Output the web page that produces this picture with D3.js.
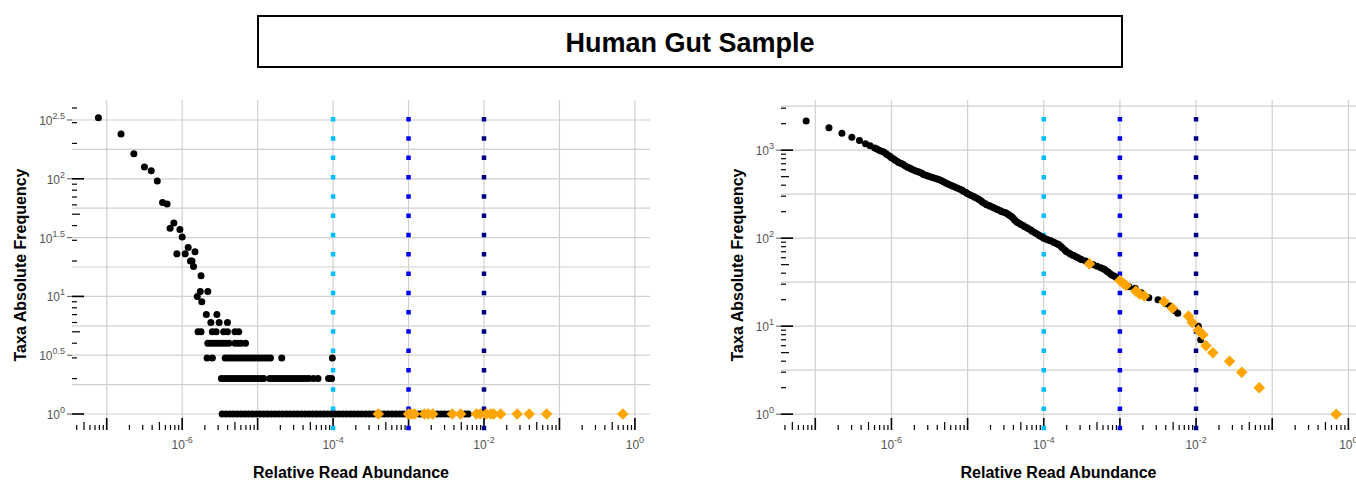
<!DOCTYPE html>
<html><head><meta charset="utf-8">
<script src="https://cdn.jsdelivr.net/npm/d3@7"></script>
<style>body{margin:0;background:#fff;font-family:"Liberation Sans",Arial,sans-serif}</style>
</head><body>
<svg id="chart" width="1356" height="480"></svg>
<script>
// thresholds for the dotted vertical lines (relative abundance)
var thresholds = [1e-4, 1e-3, 1e-2];
var thresholdColors = ["#00BFFF", "#0000FF", "#000080"];

// left panel: black points, [log10 abundance, count]
var leftTop = [[-7.11,330],[-6.81,240],[-6.64,163],[-6.50,126],[-6.41,117],[-6.33,96],[-6.26,63],[-6.20,61],
  [-6.16,38],[-6.11,42],[-6.03,37],[-6.0,32],[-6.07,23],[-5.96,23],[-5.92,26],[-5.83,24],[-5.89,20],[-5.87,20],
  [-5.85,18],[-5.75,15],[-5.80,10],[-5.76,11],[-5.66,11],[-5.74,9],[-5.68,7],[-5.54,7],[-5.62,6],[-5.51,6],[-5.40,6]];
var leftRow5 = [-5.79,-5.75,-5.60,-5.55,-5.45,-5.40,-5.30,-5.25];
var leftRow4 = [-5.66,-5.62,-5.58,-5.54,-5.50,-5.46,-5.42,-5.38,-5.30,-5.26,-5.22,-5.16];
var leftRow3 = [-5.67,-5.60,-5.43,-5.39,-5.35,-5.31,-5.27,-5.23,-5.19,-5.15,-5.11,-5.07,-5.03,-4.99,-4.95,
  -4.91,-4.87,-4.83,-4.68,-4.01];
var leftRow2 = [-5.48,-5.44,-5.40,-5.36,-5.32,-5.28,-5.24,-5.20,-5.16,-5.12,-5.08,-5.04,-5.00,-4.96,-4.92,
  -4.84,-4.80,-4.76,-4.72,-4.68,-4.64,-4.60,-4.56,-4.52,-4.48,-4.44,-4.40,-4.36,-4.32,-4.26,-4.20,-4.06,-4.02];
var leftRow1 = [-5.47,-5.42,-5.37,-5.32,-5.27,-5.22,-5.17,-5.12,-5.07,-5.02,-4.97,-4.92,-4.87,-4.82,-4.77,
  -4.72,-4.67,-4.62,-4.57,-4.52,-4.47,-4.42,-4.37,-4.32,-4.27,-4.22,-4.17,-4.12,-4.07,-4.02,-3.97,-3.92,
  -3.87,-3.82,-3.77,-3.72,-3.67,-3.62,-3.57,-3.52,-3.47,-3.42,-3.37,-3.32,-3.27,-3.22,-3.17,-3.12,-3.07,
  -3.02,-2.86,-2.82,-2.62,-2.57,-2.52,-2.47,-2.43,-2.25,-2.21];

// right panel: black rank curve, [log10 abundance, count]
var rightBlack = [[-7.12,2150],[-6.82,1800],[-6.65,1560],[-6.52,1400],[-6.42,1290],[-6.34,1180],[-6.28,1120],
  [-6.22,1060],[-6.19,1030],[-6.16,1000],[-6.13,975],[-6.10,950],[-6.07,910],[-6.05,880],[-6.02,850],[-6.0,820],
  [-5.97,795],[-5.95,770],[-5.92,745],[-5.90,720],[-5.87,705],[-5.85,690],[-5.82,665],[-5.79,640],[-5.76,625],
  [-5.74,610],[-5.71,595],[-5.68,580],[-5.65,570],[-5.63,560],[-5.60,545],[-5.58,530],[-5.55,520],[-5.52,510],
  [-5.49,500],[-5.46,490],[-5.43,480],[-5.40,470],[-5.37,460],[-5.34,450],[-5.31,435],[-5.28,420],[-5.25,410],
  [-5.22,400],[-5.19,390],[-5.16,380],[-5.13,370],[-5.10,360],[-5.07,350],[-5.05,340],[-5.02,330],[-5.0,320],
  [-4.97,312],[-4.95,305],[-4.92,298],[-4.90,290],[-4.87,282],[-4.85,275],[-4.82,265],[-4.80,255],[-4.77,248],
  [-4.75,240],[-4.72,235],[-4.70,230],[-4.67,225],[-4.65,220],[-4.62,215],[-4.60,210],[-4.57,205],[-4.55,200],
  [-4.52,197],[-4.50,195],[-4.48,190],[-4.46,185],[-4.44,180],[-4.42,175],[-4.40,168],[-4.38,160],[-4.36,155],
  [-4.34,150],[-4.32,147],[-4.30,143],[-4.27,139],[-4.25,135],[-4.22,131],[-4.20,128],[-4.17,124],[-4.15,120],
  [-4.12,116],[-4.10,113],[-4.07,109],[-4.05,106],[-4.02,103],[-4.0,100],[-3.97,98],[-3.95,96],[-3.92,94],
  [-3.90,93],[-3.87,90],[-3.85,88],[-3.82,86],[-3.80,84],[-3.77,80],[-3.75,77],[-3.72,73],[-3.70,70],[-3.67,68],
  [-3.65,66],[-3.62,64],[-3.60,63],[-3.57,61],[-3.55,60],[-3.52,58],[-3.50,57],[-3.45,55],[-3.35,50],[-3.30,48],
  [-3.25,46],[-3.22,45],[-3.20,44],[-3.17,42],[-3.15,41],[-3.12,39],[-3.10,38],[-3.07,37],[-3.05,36],[-2.95,31],
  [-2.88,28],[-2.80,27],[-2.72,24],[-2.62,21],[-2.50,20],[-2.40,18],[-2.34,17],[-2.31,16],[-2.28,15],[-2.24,14],
  [-1.97,10],[-1.94,7]];

// orange taxa: log10 abundance, count on the right panel
var orangeX = [-3.40,-3.00,-2.96,-2.92,-2.79,-2.74,-2.68,-2.42,-2.31,-2.10,-2.05,-1.97,-1.91,-1.87,-1.78,-1.56,-1.40,-1.17,-0.16];
var orangeY = [51,33,31,29,25,23,22,19,16,13,11,9,8,6,5,4,3,2,1];

var xTickExps = [-6, -4, -2, 0];

var svg = d3.select("#chart");

// title box
svg.append("rect").attr("x", 258).attr("y", 16).attr("width", 864).attr("height", 51)
  .attr("fill", "#fff").attr("stroke", "#000").attr("stroke-width", 2);
svg.append("text").attr("x", 690).attr("y", 52).attr("text-anchor", "middle")
  .attr("font-size", 27).attr("font-weight", "bold").text("Human Gut Sample");

function supLabel(sel, base, exp) {
  sel.text(base);
  sel.append("tspan").attr("dy", -6).attr("font-size", 9).text(exp);
}

function panel(opt) {
  var g = svg.append("g");
  var x = d3.scaleLog().domain([Math.pow(10, opt.xd[0]), Math.pow(10, opt.xd[1])]).range(opt.xr);
  var y = d3.scaleLog().domain([Math.pow(10, opt.yd[0]), Math.pow(10, opt.yd[1])]).range([430, 100]);
  var x0 = opt.xr[0], x1 = opt.xr[1];

  // grid
  d3.range(-7, 1).forEach(function(e) {
    g.append("line").attr("x1", x(Math.pow(10, e))).attr("x2", x(Math.pow(10, e)))
      .attr("y1", 100).attr("y2", 430).attr("stroke", "#d0d0d0").attr("stroke-width", 1.2);
  });
  opt.yGrid.forEach(function(e) {
    g.append("line").attr("x1", x0).attr("x2", x1).attr("y1", y(Math.pow(10, e))).attr("y2", y(Math.pow(10, e)))
      .attr("stroke", "#d0d0d0").attr("stroke-width", 1.2);
  });

  // x log ticks
  d3.range(-8, 1).forEach(function(e) {
    for (var m = 1; m < 10; m++) {
      var v = m * Math.pow(10, e), px = x(v);
      if (px < x0 || px > x1) continue;
      var len = m === 1 ? 12 : (m === 5 ? 8 : 5);
      g.append("line").attr("x1", px).attr("x2", px).attr("y1", 430 - len).attr("y2", 430)
        .attr("stroke", "#000").attr("stroke-width", m === 1 ? 1.6 : 1.2);
    }
  });
  xTickExps.forEach(function(e) {
    var t = g.append("text").attr("x", x(Math.pow(10, e))).attr("y", 449).attr("text-anchor", "middle")
      .attr("font-size", 12).attr("fill", "#555");
    supLabel(t, "10", e === 0 ? "0" : "-" + (-e));
  });

  // y log ticks
  d3.range(0, 4).forEach(function(e) {
    for (var m = 1; m < 10; m++) {
      var v = m * Math.pow(10, e);
      if (v > Math.pow(10, opt.yd[1])) continue;
      var py = y(v), len = m === 1 ? 12 : (m === 5 ? 8 : 5);
      g.append("line").attr("x1", x0).attr("x2", x0 + len).attr("y1", py).attr("y2", py)
        .attr("stroke", "#000").attr("stroke-width", m === 1 ? 1.6 : 1.2);
    }
  });
  opt.yLabels.forEach(function(e) {
    var t = g.append("text").attr("x", x0 - 7).attr("y", y(Math.pow(10, e)) + 5).attr("text-anchor", "end")
      .attr("font-size", 12).attr("fill", "#555");
    supLabel(t, "10", String(e));
    g.append("line").attr("x1", x0 - 5).attr("x2", x0).attr("y1", y(Math.pow(10, e))).attr("y2", y(Math.pow(10, e)))
      .attr("stroke", "#555");
  });

  // threshold lines
  thresholds.forEach(function(t, i) {
    g.append("line").attr("x1", x(t)).attr("x2", x(t)).attr("y1", 117).attr("y2", 432)
      .attr("stroke", thresholdColors[i]).attr("stroke-width", 4.5).attr("stroke-dasharray", "4.5,14.8");
  });

  // black points
  g.selectAll("circle.b").data(opt.black).enter().append("circle")
    .attr("cx", function(d) { return x(Math.pow(10, d[0])); })
    .attr("cy", function(d) { return y(d[1]); })
    .attr("r", 3.5).attr("fill", "#000");

  // orange diamonds
  var diamond = d3.symbol().type(d3.symbolDiamond2).size(85);
  g.selectAll("path.o").data(opt.orange).enter().append("path")
    .attr("d", diamond)
    .attr("transform", function(d) { return "translate(" + x(Math.pow(10, d[0])) + "," + y(d[1]) + ")"; })
    .attr("fill", "#FFA500");

  // axis titles
  svg.append("text").attr("x", (x0 + x1) / 2 - 10).attr("y", 478).attr("text-anchor", "middle")
    .attr("font-size", 16).attr("font-weight", "bold").text("Relative Read Abundance");
  svg.append("text").attr("transform", "translate(" + opt.yTitleX + ",265) rotate(-90)")
    .attr("text-anchor", "middle").attr("font-size", 16).attr("font-weight", "bold").text("Taxa Absolute Frequency");
}

// assemble left panel points
var leftBlack = leftTop.slice();
leftRow5.forEach(function(v) { leftBlack.push([v, 5]); });
leftRow4.forEach(function(v) { leftBlack.push([v, 4]); });
leftRow3.forEach(function(v) { leftBlack.push([v, 3]); });
leftRow2.forEach(function(v) { leftBlack.push([v, 2]); });
leftRow1.forEach(function(v) { leftBlack.push([v, 1]); });
var leftOrange = orangeX.map(function(v) { return [v, 1]; });
var rightOrange = orangeX.map(function(v, i) { return [v, orangeY[i]]; });

panel({ xd: [-7.46, 0.2], xr: [72, 650], yd: [-0.136, 2.67],
  yGrid: d3.range(0, 2.51, 0.25), yLabels: [0, 0.5, 1, 1.5, 2, 2.5],
  black: leftBlack, orange: leftOrange, yTitleX: 26 });
panel({ xd: [-7.45, 0.1], xr: [781, 1356], yd: [-0.18, 3.57],
  yGrid: d3.range(0, 3.51, 0.5), yLabels: [0, 1, 2, 3],
  black: rightBlack, orange: rightOrange, yTitleX: 743 });
</script>
</body></html>
